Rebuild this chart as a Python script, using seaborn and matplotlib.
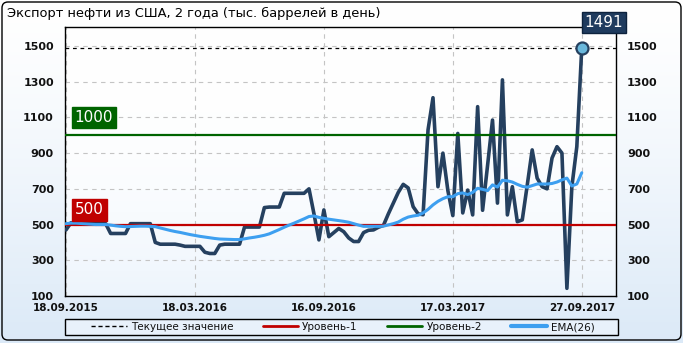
import numpy as np
import pandas as pd
import matplotlib
matplotlib.use("Agg")
import matplotlib.pyplot as plt
import seaborn as sns
from matplotlib.patches import FancyBboxPatch, Rectangle
from matplotlib.lines import Line2D

# ---------------- data ----------------
title = "Экспорт нефти из США, 2 года (тыс. баррелей в день)"
tick_labels = ["18.09.2015", "18.03.2016", "16.09.2016", "17.03.2017", "27.09.2017"]
y_ticks = [100, 300, 500, 700, 900, 1100, 1300, 1500]

export = [
    470, 510, 505, 505, 505, 505, 505, 505, 505, 450,
    450, 450, 450, 505, 505, 505, 505, 505, 400, 390,
    390, 390, 390, 385, 378, 378, 378, 378, 345, 338,
    338, 385, 390, 390, 390, 390, 486, 486, 486, 486,
    595, 598, 598, 598, 675, 675, 675, 675, 675, 700,
    560, 414, 582, 432, 455, 478, 460, 425, 405, 405,
    455, 468, 470, 485, 495, 560, 620, 680, 725, 705,
    600, 560, 555, 1030, 1210, 712, 900, 690, 550, 1010,
    565, 693, 554, 1160, 580, 830, 1085, 620, 1310, 554,
    712, 516, 526, 720, 918, 760, 712, 700, 872, 936,
    900, 143, 712, 936, 1491,
]

ema = [
    505, 508, 508, 506, 504, 502, 500, 500, 500, 497,
    493, 490, 488, 489, 490, 491, 491, 490, 488, 481,
    474, 467, 461, 456, 450, 444, 439, 434, 430, 426,
    422, 419, 418, 417, 416, 416, 420, 425, 429, 434,
    440, 448, 460, 472, 485, 497, 508, 520, 532, 545,
    548, 540, 535, 530, 526, 522, 518, 513, 505, 497,
    490, 490, 490, 490, 491, 498, 505, 514, 530, 542,
    548, 552, 565, 585, 610, 630, 645, 656, 656, 673,
    677, 668, 680, 703, 697, 690, 722, 710, 748, 745,
    738, 725, 714, 709, 718, 727, 727, 727, 730, 738,
    750, 760, 716, 727, 790,
]

level1 = 500
level2 = 1000
legend_labels = ["Текущее значение", "Уровень-1", "Уровень-2", "EMA(26)"]

# ---------------- style ----------------
sns.set_theme(style="white")
plt.rcParams["font.family"] = ["DejaVu Sans"]

navy = "#25405f"
ema_col = "#3d9ff0"
red = "#c00000"
green = "#006400"

W, H = 683, 343
fig = plt.figure(figsize=(W / 100, H / 100), dpi=100)

# background (figure gradient + plot gradient + rounded border)
bg = fig.add_axes([0, 0, 1, 1], zorder=-10)
t = np.linspace(0, 1, 256)[:, None]
top = np.array([1.0, 1.0, 1.0])
bot = np.array([0.86, 0.915, 0.97])
img = top + (bot - top) * (t ** 1.3)[:, :, None] * np.ones((1, 2, 1))
bg.imshow(img, extent=[0, W, H, 0], aspect="auto", interpolation="bilinear")
bot2 = np.array([0.93, 0.96, 0.99])
img2 = top + (bot2 - top) * (t ** 2.5)[:, :, None] * np.ones((1, 2, 1))
bg.imshow(img2, extent=[65, 616, 296, 27], aspect="auto", interpolation="bilinear")
bg.add_patch(FancyBboxPatch((2, 2), W - 4, H - 5, boxstyle="round,pad=0,rounding_size=6",
                            fill=False, ec="black", lw=1))
# legend frame
bg.add_patch(Rectangle((65, 319), 553, 16, fc="#e8f1fb", ec="black", lw=1))
bg.set_xlim(0, W)
bg.set_ylim(H, 0)
bg.axis("off")

# main axes
ax = fig.add_axes([65 / W, (H - 296) / H, (616 - 65) / W, (296 - 27) / H])
ax.set_facecolor("none")

n = len(export)
df = pd.DataFrame({"idx": np.arange(n), "export": export, "ema": ema})

sns.lineplot(data=df, x="idx", y="export", ax=ax, color=navy, lw=2.6, zorder=3,
             solid_joinstyle="round")
ax.axhline(level1, color=red, lw=1.6, zorder=4)
ax.axhline(level2, color=green, lw=1.6, zorder=4)
sns.lineplot(data=df, x="idx", y="ema", ax=ax, color=ema_col, lw=2.2, zorder=5,
             solid_joinstyle="round")
ax.axhline(export[-1], color="black", lw=0.9, ls=(0, (3, 3)), zorder=2)
ax.scatter([n - 1], [export[-1]], s=75, facecolor="#6ab8dc", edgecolor=navy,
           linewidth=1.6, zorder=7)

ax.set_xlim(-0.2, 110.9)
ax.set_ylim(100, 1606)
ax.set_yticks(y_ticks)
ax.set_xticks(np.arange(len(tick_labels)) * 26)
ax.set_xticklabels(tick_labels)
ax.set_xlabel("")
ax.set_ylabel("")
ax.grid(True, color="#c4c4c4", ls=(0, (4, 4)), lw=0.8, zorder=1)
ax.set_axisbelow(True)
ax.tick_params(axis="both", length=0, colors="#111111")
ax.tick_params(axis="y", labelleft=True, labelright=True, pad=8)
ax.tick_params(axis="x", pad=5)
for lab in ax.get_yticklabels() + ax.get_xticklabels():
    lab.set_fontweight("bold")
    lab.set_fontsize(8)
for lab in ax.get_xticklabels():
    lab.set_fontsize(7.5)
for s in ax.spines.values():
    s.set_color("black")
    s.set_linewidth(1)
    s.set_visible(True)

# title
fig.text(7 / W, 1 - 13 / H, title, ha="left", va="center", fontsize=9.4, color="black")

# value boxes
fig.text(604 / W, 1 - 22.5 / H, f"{export[-1]}", ha="center", va="center", color="white",
         fontsize=11, bbox=dict(boxstyle="square,pad=0.2", fc="#1f3b5e", ec="#0d223d", lw=1))
fig.text(94 / W, 1 - 117.5 / H, f"{level2}", ha="center", va="center", color="white",
         fontsize=11, bbox=dict(boxstyle="square,pad=0.2", fc=green, ec=green, lw=1))
fig.text(89.5 / W, 1 - 210 / H, f"{level1}", ha="center", va="center", color="white",
         fontsize=11, bbox=dict(boxstyle="square,pad=0.2", fc=red, ec=red, lw=1))

# legend
handles = [
    Line2D([], [], color="black", lw=1, ls=(0, (3, 2))),
    Line2D([], [], color=red, lw=2),
    Line2D([], [], color=green, lw=2),
    Line2D([], [], color=ema_col, lw=3),
]
leg = fig.legend(handles, legend_labels, loc="center",
                 bbox_to_anchor=(343 / W, 1 - 327 / H),
                 ncol=4, frameon=False, fontsize=7.5, handlelength=3.4, handletextpad=0.4,
                 columnspacing=2.8, borderpad=0.1, borderaxespad=0)
for txt in leg.get_texts():
    txt.set_color("#111111")

fig.savefig("out.png", dpi=100)
